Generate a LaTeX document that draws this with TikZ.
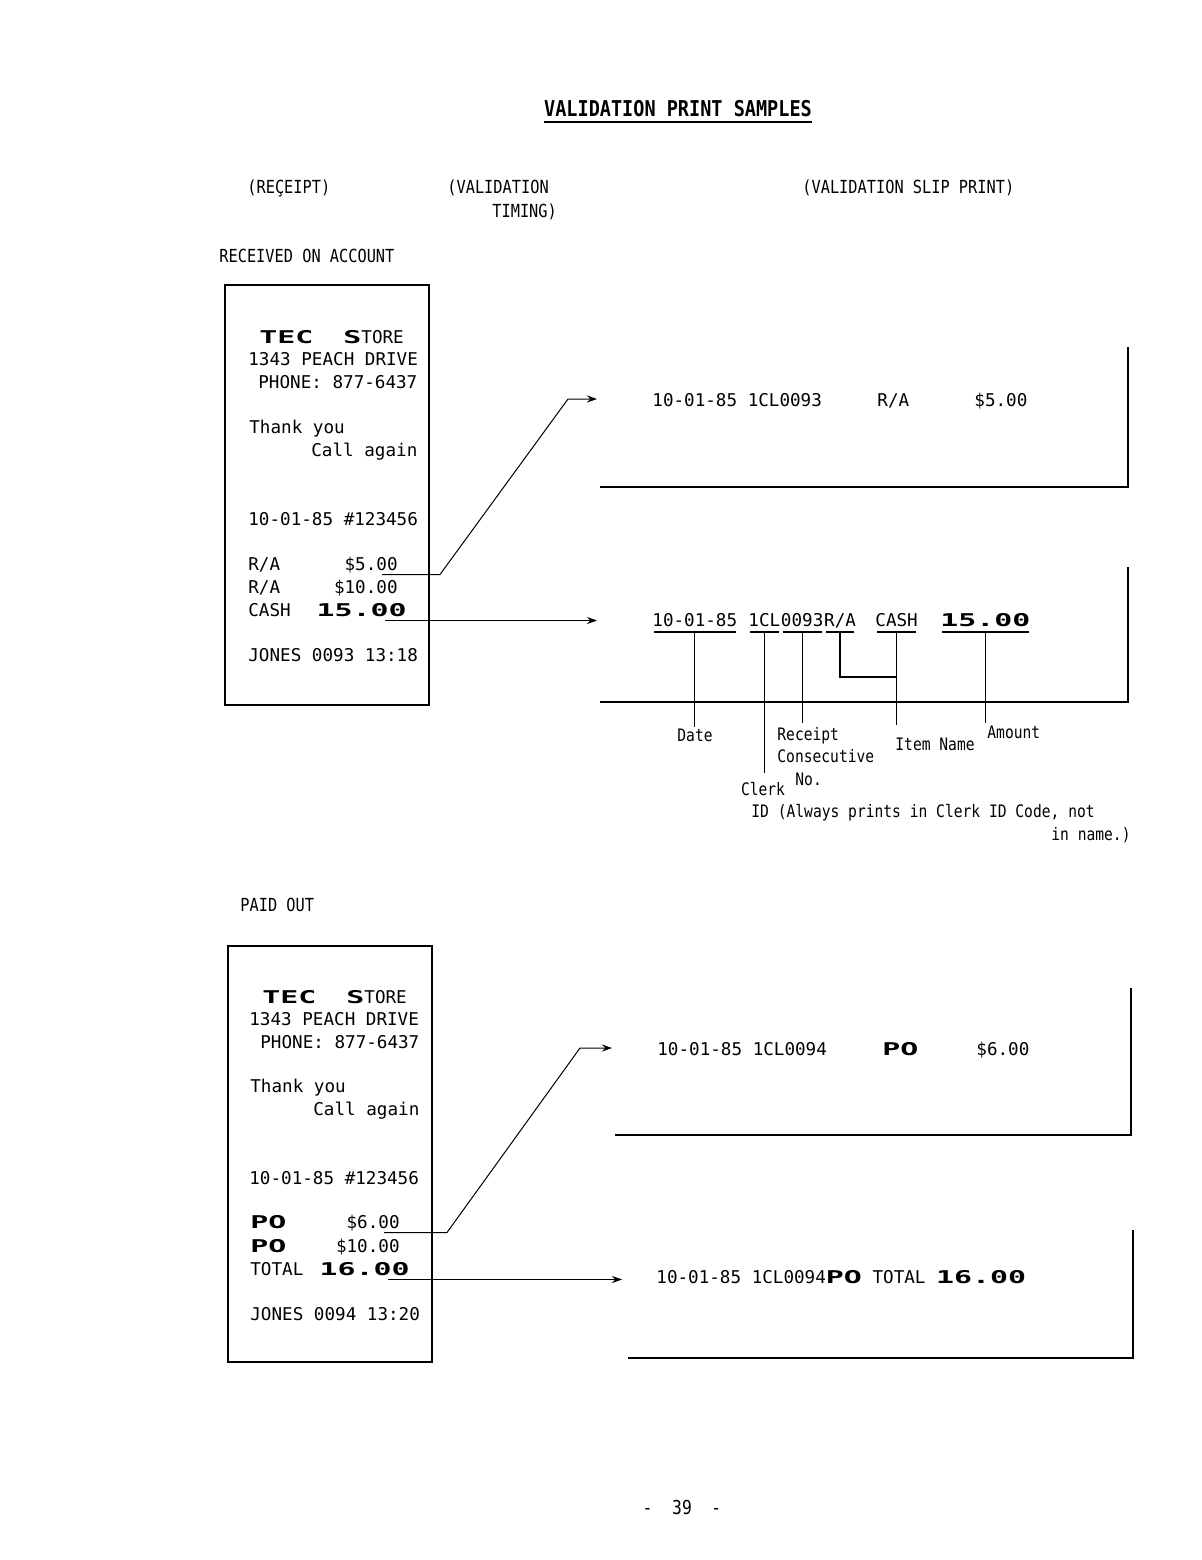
\documentclass[tikz,border=0pt]{standalone}
\usepackage{fontspec}
\usepackage{graphicx}
\setmonofont{DejaVu Sans Mono}
\newfontfamily\condmono{DejaVu Sans Mono}[FakeStretch=0.85]
\usetikzlibrary{positioning, arrows.meta}
% double width print of the register
\newcommand{\wide}[1]{\scalebox{1.7}[1]{\bfseries #1}}

\begin{document}
\begin{tikzpicture}[x=0.5pt, y=-0.5pt,
    every node/.style={inner sep=0pt, anchor=west},
    hd/.style={font=\condmono\fontsize{9}{11}\selectfont, text height=6.6pt, text depth=0pt},
    lb/.style={font=\condmono\fontsize{8.6}{11.2}\selectfont, align=left},
    rc/.style={font=\ttfamily\fontsize{8.8}{11}\selectfont, text height=6.5pt, text depth=0pt},
    receiptbox/.style={line width=0.8pt},
    slipframe/.style={line width=1pt},
    conn/.style={line width=0.5pt, -{Stealth[length=5pt, width=3.5pt]}},
    tickline/.style={line width=0.6pt}
  ]
  \useasboundingbox (0,0) rectangle (1202,1560);

  % headings
  \node[hd, font=\condmono\bfseries\fontsize{10.9}{12}\selectfont, anchor=center] (title) at (678,110) {VALIDATION PRINT SAMPLES};
  \draw[line width=0.8pt] ([yshift=-2.5pt]title.south west) -- ([yshift=-2.5pt]title.south east);
  \node[hd] (hrec) at (247,187) {(REÇEIPT)};
  \node[hd] (hval) at (447,187) {(VALIDATION};
  \node[hd] (htim) at (492,211) {TIMING)};
  \node[hd] (hslip) at (802,187) {(VALIDATION SLIP PRINT)};
  \node[hd] (hra) at (219,256) {RECEIVED ON ACCOUNT};
  \node[hd] (hpo) at (240,905) {PAID OUT};

  % receipt, received on account
  \draw[receiptbox] (225,285) rectangle (429,705);
  \node[rc] (r1name) at (259,337) {\wide{TEC}\hspace{15pt}\wide{S}TORE};
  \node[rc] (r1addr) at (248,359) {1343 PEACH DRIVE};
  \node[rc] (r1tel) at (258,382) {PHONE: 877-6437};
  \node[rc] (r1thx) at (249,427) {Thank you};
  \node[rc] (r1call) at (311,450) {Call again};
  \node[rc] (r1no) at (248,519) {10-01-85 \#123456};
  \node[rc] (r1ra) at (248,564) {R/A};
  \node[rc, anchor=east] (r1rav) at (398,564) {\$5.00};
  \node[rc] (r1rb) at (248,587) {R/A};
  \node[rc, anchor=east] (r1rbv) at (398,587) {\$10.00};
  \node[rc] (r1cash) at (248,610) {CASH};
  \node[rc, anchor=east] (r1cashv) at (407,610) {\wide{15.00}};
  \node[rc] (r1clerk) at (248,655) {JONES 0093 13:18};

  % slip 1
  \draw[slipframe] (600,487) -- (1128,487) -- (1128,347);
  \node[rc] (s1id) at (652,400) {10-01-85 1CL0093};
  \node[rc] (s1item) at (877,400) {R/A};
  \node[rc] (s1amt) at (974,400) {\$5.00};

  % slip 2
  \draw[slipframe] (600,702) -- (1128,702) -- (1128,567);
  \node[rc] (sdate) at (652,620) {10-01-85};
  \node[rc] (sclerk) at (748,620) {1CL};
  \node[rc, right=0pt of sclerk] (snum) {0093};
  \node[rc, right=0pt of snum] (sitem) {R/A};
  \node[rc] (scash) at (875,620) {CASH};
  \node[rc] (samt) at (940,620) {\wide{15.00}};
  \foreach \n in {sdate, sclerk, snum, sitem, scash, samt}
    \draw[tickline] ([xshift=1pt,yshift=-2.5pt]\n.south west) -- ([xshift=-1pt,yshift=-2.5pt]\n.south east);

  \draw[tickline] ([yshift=-2.5pt]sdate.south) -- ++(0,95);
  \draw[tickline] ([yshift=-2.5pt]sclerk.south) -- ++(0,141);
  \draw[tickline] ([yshift=-2.5pt]snum.south) -- ++(0,91);
  \draw[tickline] ([yshift=-2.5pt]sitem.south) -- ++(0,45) -| ([yshift=-2.5pt]scash.south);
  \draw[tickline] ([yshift=-2.5pt]scash.south) -- ++(0,93);
  \draw[tickline] ([yshift=-2.5pt]samt.south) -- ++(0,91);

  \node[lb, anchor=north] (ldate) at (695,729) {Date};
  \node[lb, anchor=north] (lclerk) at (763,782) {Clerk};
  \node[lb, anchor=north west] (lrcpt) at (777,727) {Receipt\\Consecutive\\\hspace*{9pt}No.};
  \node[lb, anchor=north west] (litem) at (895,738) {Item Name};
  \node[lb, anchor=north west] (lamt) at (987,726) {Amount};
  \node[lb] (lid) at (751,813) {ID (Always prints in Clerk ID Code, not};
  \node[lb, anchor=east] (lname) at (1131,835) {in name.)};

  % connectors, received on account
  \coordinate (a1) at ([xshift=-8pt,yshift=-1.8pt]r1rav.south east);
  \coordinate (k1) at (568,399);
  \coordinate (t1) at (597,399);
  \draw[conn] (a1) -- ++(58,0) -- (k1) -- (t1);
  \coordinate (a2) at ([xshift=-11pt,yshift=-1.8pt]r1cashv.south east);
  \coordinate (t2) at (597,620);
  \draw[conn] (a2) -- (a2 -| t2);

  % receipt, paid out
  \draw[receiptbox] (228,946) rectangle (432,1362);
  \node[rc] (r2name) at (262,997) {\wide{TEC}\hspace{15pt}\wide{S}TORE};
  \node[rc] (r2addr) at (249,1019) {1343 PEACH DRIVE};
  \node[rc] (r2tel) at (260,1042) {PHONE: 877-6437};
  \node[rc] (r2thx) at (250,1086) {Thank you};
  \node[rc] (r2call) at (313,1109) {Call again};
  \node[rc] (r2no) at (249,1178) {10-01-85 \#123456};
  \node[rc] (r2pa) at (250,1222) {\wide{PO}};
  \node[rc, anchor=east] (r2pav) at (400,1222) {\$6.00};
  \node[rc] (r2pb) at (250,1246) {\wide{PO}};
  \node[rc, anchor=east] (r2pbv) at (400,1246) {\$10.00};
  \node[rc] (r2tot) at (250,1269) {TOTAL};
  \node[rc, anchor=east] (r2totv) at (410,1269) {\wide{16.00}};
  \node[rc] (r2clerk) at (250,1314) {JONES 0094 13:20};

  % slip 3
  \draw[slipframe] (615,1135) -- (1131,1135) -- (1131,988);
  \node[rc] (s3id) at (657,1049) {10-01-85 1CL0094};
  \node[rc] (s3item) at (882,1049) {\wide{PO}};
  \node[rc] (s3amt) at (976,1049) {\$6.00};

  % slip 4
  \draw[slipframe] (628,1358) -- (1133,1358) -- (1133,1230);
  \node[rc] (s4id) at (656,1277) {10-01-85 1CL0094\wide{PO} TOTAL \wide{16.00}};

  % connectors, paid out
  \coordinate (a3) at ([xshift=-8pt,yshift=-1.8pt]r2pav.south east);
  \coordinate (k3) at (580,1048);
  \coordinate (t3) at (612,1048);
  \draw[conn] (a3) -- ++(63,0) -- (k3) -- (t3);
  \coordinate (a4) at ([xshift=-11pt,yshift=-1.8pt]r2totv.south east);
  \coordinate (t4) at (622,1278);
  \draw[conn] (a4) -- (a4 -| t4);

  \node[hd, font=\condmono\fontsize{9.6}{11}\selectfont, anchor=center] (pg) at (682,1508) {-\ \ 39\ \ -};
\end{tikzpicture}
\end{document}
